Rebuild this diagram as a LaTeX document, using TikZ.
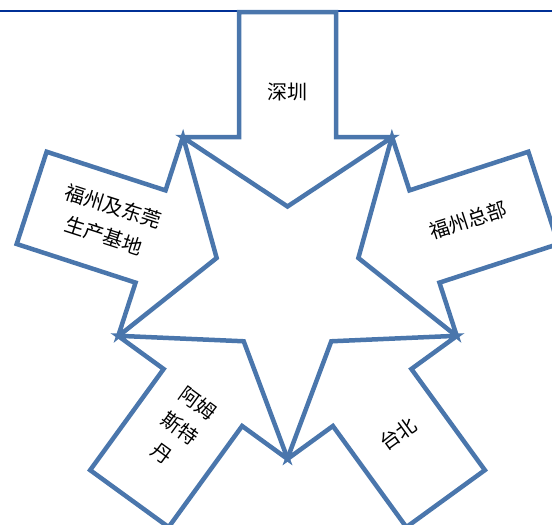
\documentclass[tikz,border=0pt]{standalone}
\usepackage{fontspec}
\newfontfamily\cjk{Noto Sans CJK SC}
\definecolor{arrowblue}{RGB}{74,118,172}
\definecolor{rulecol}{RGB}{0,48,150}
\begin{document}
\begin{tikzpicture}[x=1pt,y=1pt,
  arrowshape/.style={draw=arrowblue, line width=4.5pt, miter limit=10},
  lbl/.style={font=\cjk\fontsize{20}{31}\selectfont, align=center, text=black, inner sep=0pt}]
\useasboundingbox (0,0) rectangle (552,-525);
\clip (0,0) rectangle (552,-525);
\coordinate (c) at (287.5,-281);
\coordinate (rl) at (0,-10.5);
\coordinate (rr) at (552,-10.5);
\draw[rulecol, line width=2pt] (rl) -- (rr);
\foreach \a in {0,72,144,216,288} {
  \begin{scope}[shift={(c)}, rotate=\a]
    \draw[arrowshape] (0,74.5) -- (105,144) -- (48.5,144) -- (48.5,269)
      -- (-48.5,269) -- (-48.5,144) -- (-105,144) -- cycle;
  \end{scope}
}
\node[lbl] (sz) at (287.5,-92) {深圳};
\node[lbl, rotate=18] (fz) at (468,-220) {福州总部};
\node[lbl, rotate=-18] (fd) at (109,-221) {福州及东莞\\生产基地};
\node[lbl, rotate=-36] (am) at (180,-428) {阿姆\\斯特\\丹};
\node[lbl, rotate=36] (tb) at (398,-434) {台北};
\end{tikzpicture}
\end{document}
